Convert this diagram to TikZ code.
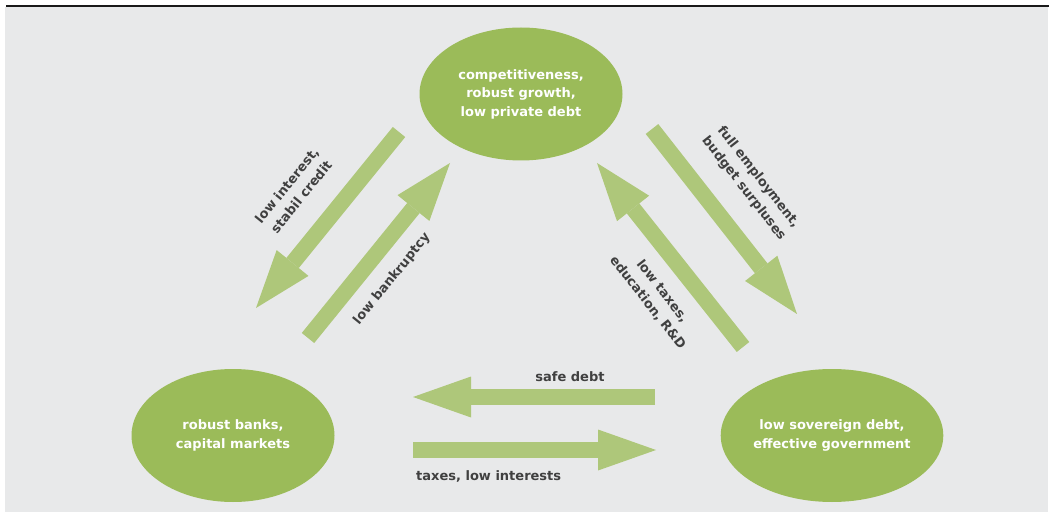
\documentclass[tikz,border=0pt]{standalone}
\usepackage{fontspec}
\setmainfont{DejaVu Sans}
\usetikzlibrary{arrows.meta,shapes.geometric}
\definecolor{bggray}{HTML}{E8E9EA}
\definecolor{olive}{HTML}{9BBB59}
\definecolor{lightolive}{HTML}{AEC77A}
\definecolor{labelgray}{HTML}{404040}
\begin{document}
\begin{tikzpicture}[x=1pt,y=-1pt,
	bubble/.style={ellipse,fill=olive,text=white,inner sep=0pt,minimum width=203pt,minimum height=133pt,align=center,font=\bfseries\fontsize{13}{18.5}\selectfont},
	flow/.style={draw=lightolive,line width=16pt,-{Triangle[length=58pt,width=41pt,line width=0pt]}},
	flowlabel/.style={text=labelgray,inner sep=0pt,align=center,font=\bfseries\fontsize{13}{18.5}\selectfont}]
		\useasboundingbox (0,0) rectangle (1053,513);
		\fill [bggray] (5,7) rectangle (1048,512);
		\draw [black!90,line width=1.2pt] (6,6) -- (1049,6);
		\node [bubble] (comp) at (521,94) {competitiveness,\\robust growth,\\low private debt};
		\node [bubble] (banks) at (233,435.5) {robust banks,\\capital markets};
		\node [bubble] (gov) at (832,435.5) {low sovereign debt,\\effective government};
		\coordinate (credit-s) at (399,132);
		\coordinate (credit-e) at (256,308);
		\coordinate (bankr-s) at (308,338);
		\coordinate (bankr-e) at (450,163);
		\coordinate (surpl-s) at (652,129);
		\coordinate (surpl-e) at (797,314);
		\coordinate (taxes-s) at (743,347);
		\coordinate (taxes-e) at (597,163);
		\coordinate (safe-s) at (655,397);
		\coordinate (safe-e) at (413,397);
		\coordinate (intr-s) at (413,450);
		\coordinate (intr-e) at (656,450);
		\draw [flow] (credit-s) -- (credit-e);
		\draw [flow] (bankr-s) -- (bankr-e);
		\draw [flow] (surpl-s) -- (surpl-e);
		\draw [flow] (taxes-s) -- (taxes-e);
		\draw [flow] (safe-s) -- (safe-e);
		\draw [flow] (intr-s) -- (intr-e);
		\node [flowlabel,rotate=51] (credit) at (294,191) {low interest,\\stabil credit};
		\node [flowlabel,rotate=51] (bankr) at (392,279) {low bankruptcy};
		\node [flowlabel,rotate=-52] (surpl) at (751,183) {full employment,\\budget surpluses};
		\node [flowlabel,rotate=-52] (taxes) at (655,297) {low taxes,\\education, R\&D};
		\node [flowlabel] (safe) at (570,377) {safe debt};
		\node [flowlabel,anchor=west] (intr) at (416,476) {taxes, low interests};
	\end{tikzpicture}
\end{document}
